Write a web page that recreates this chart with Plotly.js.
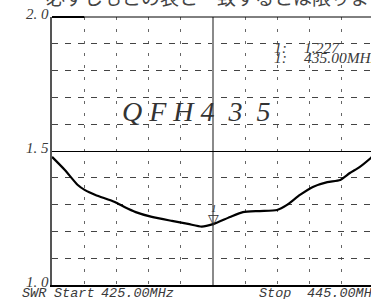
<!DOCTYPE html>
<html>
<head>
<meta charset="utf-8">
<script src="https://cdn.plot.ly/plotly-3.0.1.min.js"></script>
<style>
html,body{margin:0;padding:0;overflow:hidden;background:#fff;}
#chart{width:380px;height:299px;}
</style>
</head>
<body>
<div id="chart"></div>
<script>
// Data (SWR vs frequency, MHz)
var freqMHz = [425.0, 425.8, 426.6, 427.05, 427.7, 428.9, 429.5, 430.2, 431.2, 432.45, 433.45, 434.3, 435.0, 436.06, 436.86, 437.9, 438.98, 439.6, 440.4, 441.2, 442.1, 442.9, 443.5, 444.1, 444.8, 445.0];
var swr     = [1.478, 1.429, 1.373, 1.354, 1.336, 1.310, 1.291, 1.272, 1.254, 1.239, 1.228, 1.218, 1.227, 1.254, 1.272, 1.276, 1.280, 1.299, 1.336, 1.366, 1.384, 1.392, 1.418, 1.440, 1.474, 1.485];

var markerFreq = 435.0;
var markerSwr = 1.227;
var markerLabel = "1";
var markerLines = ["1:", "1.227", "1:", "435.00MHz"];

var yTickVals = [1.0, 1.5, 2.0];
var yTickText = ["1. 0", "1. 5", "2. 0"];
var startLabel = ["SWR", "Start", "425.00MHz"];
var stopLabel = ["Stop", "445.00MHz"];
var titleText = "Q\u00a0F\u00a0H\u00a04\u00a0\u00a03\u00a0\u00a05";
var noteText = "必ずしもこの表と一致するとは限りません";

var serif = "Liberation Serif, DejaVu Serif, serif";
var mono = "Liberation Mono, DejaVu Sans Mono, monospace";
var txtCol = "#3a3a3a";

var trace = {
  x: freqMHz, y: swr, type: "scatter", mode: "lines",
  line: {color: "#000", width: 2.2, shape: "spline", smoothing: 0.6},
  hoverinfo: "skip", showlegend: false
};

var ann = [];
for (var i = 0; i < yTickVals.length; i++) {
  ann.push({xref: "paper", yref: "y", x: 0, y: yTickVals[i], xanchor: "right", yanchor: "middle",
    xshift: -1, yshift: 3, showarrow: false, text: yTickText[i],
    font: {family: serif, size: 15, color: txtCol, style: "italic"}});
}
// bottom labels
var startX = [20, 52, 99];
for (var j = 0; j < startLabel.length; j++) {
  ann.push({xref: "paper", yref: "paper", x: (startX[j] - 52) / 322, y: 0, xanchor: "left", yanchor: "top",
    yshift: 1, showarrow: false, text: startLabel[j],
    font: {family: mono, size: 13.5, color: txtCol, style: "italic"}});
}
var stopX = [257, 305];
for (var k = 0; k < stopLabel.length; k++) {
  ann.push({xref: "paper", yref: "paper", x: (stopX[k] - 52) / 322, y: 0, xanchor: "left", yanchor: "top",
    yshift: 1, showarrow: false, text: stopLabel[k],
    font: {family: mono, size: 13.5, color: txtCol, style: "italic"}});
}
// marker readout
var mX = [272, 302, 272, 302];
var mY = [47, 47, 57, 57];
for (var m = 0; m < markerLines.length; m++) {
  ann.push({xref: "paper", yref: "paper", x: (mX[m] - 52) / 322, y: 1 - (mY[m] - 17) / 268,
    xanchor: "left", yanchor: "middle", showarrow: false, text: markerLines[m],
    font: {family: serif, size: 15.5, color: txtCol, style: "italic"}});
}
// title in plot
ann.push({xref: "paper", yref: "paper", x: (120 - 52) / 322, y: 1 - (111 - 17) / 268,
  xanchor: "left", yanchor: "middle", showarrow: false, text: titleText,
  font: {family: serif, size: 28, color: "#333", style: "italic"}});
// marker triangle and number
ann.push({xref: "x", yref: "y", x: markerFreq, y: markerSwr, xanchor: "center", yanchor: "bottom",
  yshift: -5, showarrow: false, text: "\u25BD",
  font: {family: "DejaVu Sans", size: 14, color: "#333"}});
ann.push({xref: "x", yref: "y", x: markerFreq, y: markerSwr, xanchor: "center", yanchor: "bottom",
  yshift: 8, xshift: 1, showarrow: false, text: markerLabel,
  font: {family: serif, size: 11, color: "#333", style: "italic"}});
// top note (cut off)
ann.push({xref: "paper", yref: "paper", x: (44 - 52) / 322, y: 1, xanchor: "left", yanchor: "bottom",
  yshift: 5, showarrow: false, text: noteText,
  font: {family: "Noto Sans CJK JP", size: 19, color: "#444"}});

var layout = {
  width: 380, height: 299,
  margin: {l: 52, r: 6, t: 17, b: 14},
  paper_bgcolor: "#fff", plot_bgcolor: "#fff",
  showlegend: false,
  xaxis: {
    range: [425, 445], showticklabels: false, ticks: "", zeroline: false,
    tickmode: "array", tickvals: [markerFreq],
    showgrid: true, gridcolor: "#8a8a8a", gridwidth: 2,
    minor: {tickmode: "linear", tick0: 425, dtick: 2, showgrid: true, gridcolor: "#666", gridwidth: 1, griddash: "3px,9px", ticks: ""},
    showline: true, linecolor: "#000", linewidth: 2
  },
  yaxis: {
    range: [1, 2], showticklabels: false, ticks: "", zeroline: false,
    tickmode: "array", tickvals: yTickVals,
    showgrid: true, gridcolor: "#000", gridwidth: 1,
    minor: {tickmode: "linear", tick0: 1, dtick: 0.1, showgrid: true, gridcolor: "#444", gridwidth: 1, griddash: "6px,7px", ticks: ""},
    showline: true, linecolor: "#555", linewidth: 2.5
  },
  shapes: [
    {type: "line", xref: "paper", yref: "paper", x0: 0, x1: 1, y0: 1, y1: 1, line: {color: "#000", width: 1}},
    {type: "line", xref: "paper", yref: "paper", x0: 0, x1: 0.1, y0: 1, y1: 1, line: {color: "#000", width: 2}}
  ],
  annotations: ann
};

Plotly.newPlot("chart", [trace], layout, {staticPlot: true, displayModeBar: false});
</script>
</body>
</html>
